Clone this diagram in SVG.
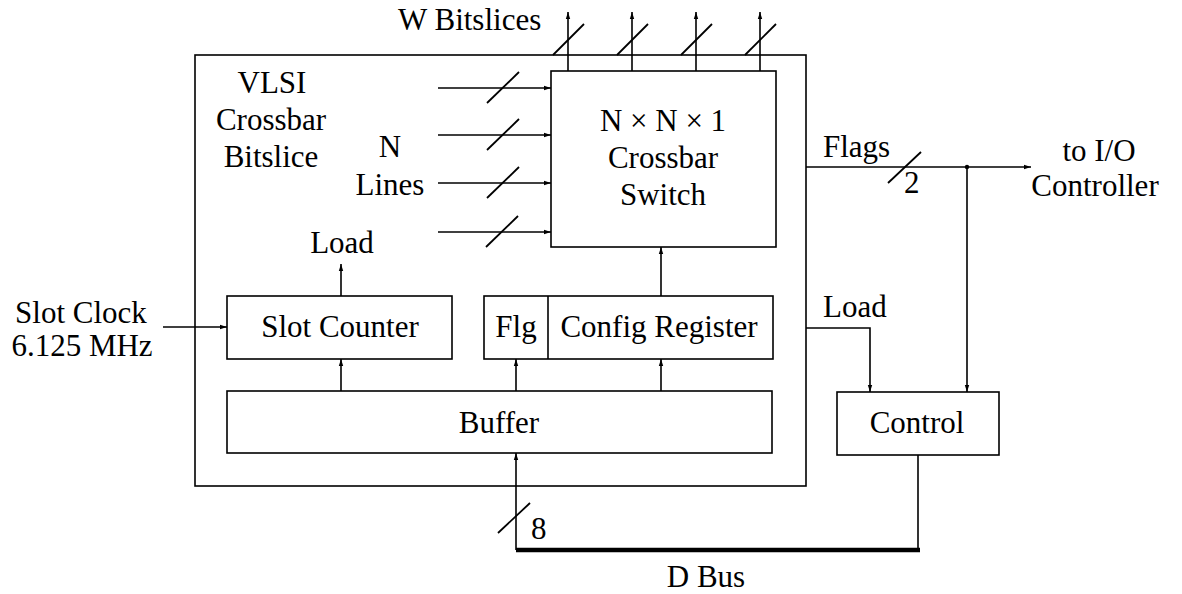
<svg xmlns="http://www.w3.org/2000/svg" width="1182" height="594" viewBox="0 0 1182 594">
<style>
  .box{fill:none;stroke:#000;stroke-width:1.6}
  .ln{fill:none;stroke:#000;stroke-width:1.6}
  .arr{fill:none;stroke:#000;stroke-width:1.6;marker-end:url(#ah)}
  .bus{fill:none;stroke:#000;stroke-width:4.5}
  .sl{fill:none;stroke:#000;stroke-width:1.8}
  text{font-family:"Liberation Serif","Times New Roman",serif;font-size:31px;fill:#000}
  .c{text-anchor:middle}
</style>
<defs>
  <marker id="ah" markerWidth="8" markerHeight="6" refX="7" refY="3" orient="auto" markerUnits="userSpaceOnUse">
    <path d="M0,0.8 L7,3 L0,5.2 Z" fill="#000"/>
  </marker>
</defs>
<rect width="1182" height="594" fill="#fff"/>

<g id="bitslice">
  <rect class="box" x="195" y="55" width="611" height="431"/>
  <text class="c" x="272" y="93">VLSI</text>
  <text class="c" x="271" y="130">Crossbar</text>
  <text class="c" x="271" y="167">Bitslice</text>
</g>
<g id="crossbar">
  <rect class="box" x="551" y="71" width="225" height="176"/>
  <text class="c" x="663" y="131">N × N × 1</text>
  <text class="c" x="663" y="168">Crossbar</text>
  <text class="c" x="663" y="205">Switch</text>
</g>
<g id="slotcounter">
  <rect class="box" x="227" y="296" width="225" height="63"/>
  <text class="c" x="340" y="337">Slot Counter</text>
</g>
<g id="configreg">
  <rect class="box" x="484" y="296" width="289" height="63"/>
  <line class="ln" x1="548" y1="296" x2="548" y2="359"/>
  <text class="c" x="516" y="337">Flg</text>
  <text class="c" x="659" y="337">Config Register</text>
</g>
<g id="buffer">
  <rect class="box" x="227" y="391" width="545" height="62"/>
  <text class="c" x="499" y="433">Buffer</text>
</g>
<g id="control">
  <rect class="box" x="837" y="392" width="162" height="63"/>
  <text class="c" x="917" y="433">Control</text>
</g>

<g id="labels">
  <text x="398" y="30">W Bitslices</text>
  <text class="c" x="390" y="157">N</text>
  <text class="c" x="390" y="195">Lines</text>
  <text class="c" x="342" y="253">Load</text>
  <text class="c" x="81" y="323">Slot Clock</text>
  <text class="c" x="82" y="356">6.125 MHz</text>
  <text x="823" y="157">Flags</text>
  <text x="904" y="193">2</text>
  <text class="c" x="1099" y="161">to I/O</text>
  <text class="c" x="1095" y="196">Controller</text>
  <text x="823" y="317">Load</text>
  <text x="531" y="539">8</text>
  <text class="c" x="706" y="587">D Bus</text>
</g>

<g id="connectors">
  <!-- W bitslice outputs -->
  <line class="arr" x1="568" y1="71" x2="568" y2="12"/>
  <line class="arr" x1="632" y1="71" x2="632" y2="12"/>
  <line class="arr" x1="696" y1="71" x2="696" y2="12"/>
  <line class="arr" x1="760" y1="71" x2="760" y2="12"/>
  <line class="sl" x1="553" y1="55" x2="584" y2="24"/>
  <line class="sl" x1="617" y1="55" x2="648" y2="24"/>
  <line class="sl" x1="681" y1="55" x2="712" y2="24"/>
  <line class="sl" x1="745" y1="55" x2="776" y2="24"/>
  <!-- N input lines -->
  <line class="arr" x1="438" y1="88" x2="551" y2="88"/>
  <line class="arr" x1="438" y1="135" x2="551" y2="135"/>
  <line class="arr" x1="438" y1="183" x2="551" y2="183"/>
  <line class="arr" x1="438" y1="232" x2="551" y2="232"/>
  <line class="sl" x1="487" y1="103" x2="519" y2="72"/>
  <line class="sl" x1="487" y1="150" x2="519" y2="119"/>
  <line class="sl" x1="487" y1="198" x2="519" y2="167"/>
  <line class="sl" x1="486" y1="247" x2="518" y2="216"/>
  <!-- internal -->
  <line class="arr" x1="341" y1="296" x2="341" y2="264"/>
  <line class="arr" x1="163" y1="327" x2="227" y2="327"/>
  <line class="arr" x1="661" y1="296" x2="661" y2="247"/>
  <line class="arr" x1="341" y1="391" x2="341" y2="359"/>
  <line class="arr" x1="516" y1="391" x2="516" y2="359"/>
  <line class="arr" x1="661" y1="391" x2="661" y2="359"/>
  <!-- D bus -->
  <line class="arr" x1="516" y1="550" x2="516" y2="453"/>
  <line class="sl" x1="498" y1="533" x2="530" y2="503"/>
  <line class="bus" x1="516" y1="550" x2="920" y2="550"/>
  <line class="ln" x1="918" y1="455" x2="918" y2="550"/>
  <!-- Flags -->
  <line class="arr" x1="806" y1="167" x2="1031" y2="167"/>
  <line class="sl" x1="888" y1="183" x2="921" y2="152"/>
  <circle cx="967" cy="167" r="2.2" fill="#000"/>
  <line class="arr" x1="967" y1="167" x2="967" y2="392"/>
  <!-- Load to control -->
  <polyline class="arr" points="806,328 870,328 870,392"/>
</g>
</svg>
